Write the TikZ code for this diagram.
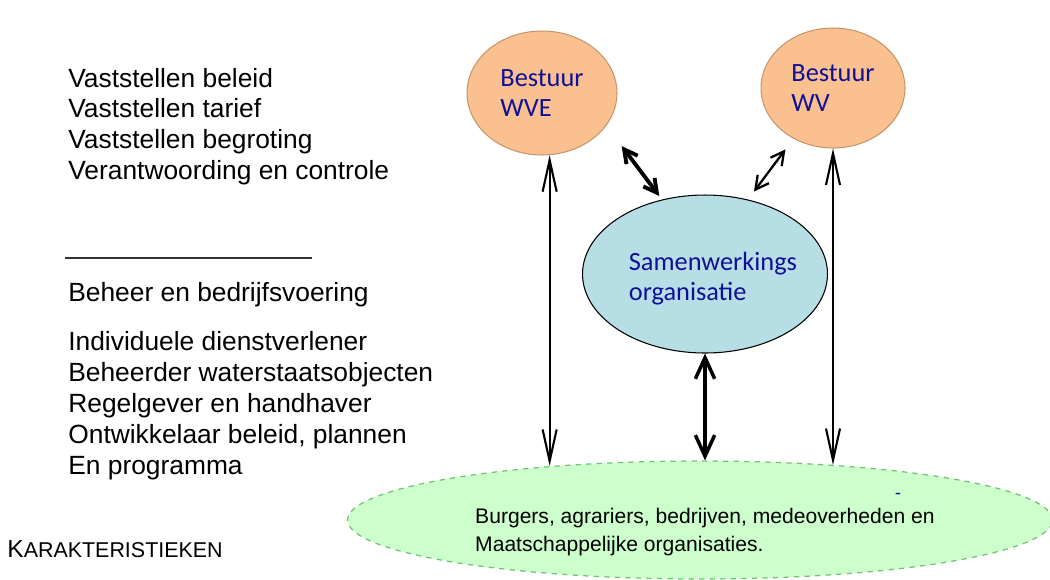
\documentclass[tikz,border=0pt]{standalone}
\usepackage{fontspec}
\setmainfont{Liberation Sans}
\newfontfamily\calibri{Carlito}
\usetikzlibrary{shapes.geometric,arrows.meta}
\definecolor{oranje}{RGB}{250,192,144}
\definecolor{oranjerand}{RGB}{196,150,106}
\definecolor{lichtblauw}{RGB}{183,222,228}
\definecolor{lichtgroen}{RGB}{204,255,204}
\definecolor{donkerblauw}{RGB}{16,16,150}

\begin{document}
\begin{tikzpicture}[x=0.02cm,y=-0.02cm,
	tekst/.style={anchor=base west,inner sep=0pt,font=\fontsize{15}{18}\selectfont},
	wolk/.style={ellipse,inner sep=0pt,align=left,text=donkerblauw,font=\calibri\fontsize{15}{17}\selectfont},
	bestuur/.style={wolk,draw=oranjerand,fill=oranje,line width=0.6pt},
	pijl/.style={{Straight Barb[length=18pt,width=8pt]}-{Straight Barb[length=18pt,width=8pt]},line width=1.2pt},
	pijlkort/.style={{Straight Barb[length=7.5pt,width=8pt]}-{Straight Barb[length=7.5pt,width=8pt]}}]
	\useasboundingbox (0,0) rectangle (1050,579);

	% taken links
	\foreach \regel [count=\i] in {Vaststellen beleid, Vaststellen tarief,
		Vaststellen begroting, Verantwoording en controle}
		\node[tekst] (taak\i) at (68,{87+30.7*(\i-1)}) {\regel};
	\draw[gray!40!black,line width=0.7pt] (65,258) -- (312,258);
	\node[tekst] (beheer) at (68,301) {Beheer en bedrijfsvoering};
	\foreach \regel [count=\i] in {Individuele dienstverlener, Beheerder waterstaatsobjecten,
		Regelgever en handhaver, {Ontwikkelaar beleid, plannen}, En programma}
		\node[tekst] (rol\i) at (68,{350+31.2*(\i-1)}) {\regel};
	\node[anchor=base west,inner sep=0pt] (kop) at (7,557)
		{{\fontsize{14}{16}\selectfont K}{\fontsize{12.2}{14}\selectfont ARAKTERISTIEKEN}};

	% organen
	\node[bestuur,minimum width=3cm,minimum height=2.48cm] (wve) at (542,93) {Bestuur\\WVE};
	\node[bestuur,minimum width=2.88cm,minimum height=2.4cm] (wv) at (833,88) {Bestuur\\WV};
	\node[ellipse,draw=black,fill=lichtblauw,line width=0.6pt,minimum width=4.9cm,minimum height=3.16cm,
		label={[wolk,xshift=4.5pt,yshift=-2.5pt]center:Samenwerkings\\organisatie}]
		(samen) at (705,274) {};
	\node[ellipse,draw=green!40!gray!80,dashed,fill=lichtgroen,line width=0.7pt,
		minimum width=14.1cm,minimum height=2.36cm,
		label={[align=left,font=\fontsize{12}{16.4}\selectfont,xshift=2.8pt,yshift=-6.8pt]center:
		Burgers, agrariers, bedrijven, medeoverheden en\\Maatschappelijke organisaties.}]
		(burgers) at (700,520) {};
	\node[text=donkerblauw,inner sep=0pt,font=\calibri\fontsize{11}{12}\selectfont] (streep) at (898,496) {-};

	% relaties
	\draw[pijl] (wve.-83) -- (wve.-83 |- burgers.160);
	\draw[pijl] (wv.south) -- (wv.south |- burgers.22);
	\draw[pijlkort,line width=2pt,{Straight Barb[length=12pt,width=11pt]}-{Straight Barb[length=12pt,width=11pt]}]
		(samen.south) -- (samen.south |- burgers.north);
	\draw[pijlkort,line width=2.2pt,shorten <=14.5pt,shorten >=2.5pt] (wve.-27) -- (samen.120);
	\draw[pijlkort,line width=1.3pt,shorten <=7.6pt,shorten >=5.7pt] (wv.-128) -- (samen.60);
\end{tikzpicture}
\end{document}
